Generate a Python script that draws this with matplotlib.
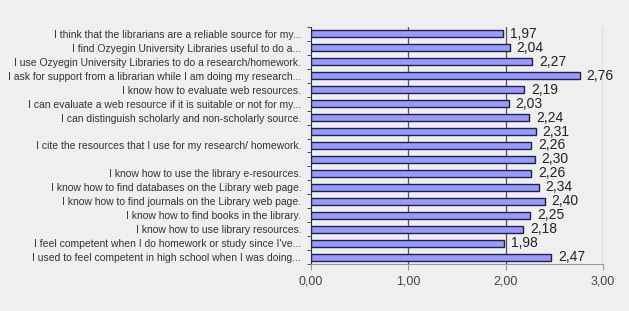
import numpy as np
import matplotlib
matplotlib.use("Agg")
import matplotlib.pyplot as plt

labels = [
    "I think that the librarians are a reliable source for my...",
    "I find Ozyegin University Libraries useful to do a...",
    "I use Ozyegin University Libraries to do a research/homework.",
    "I ask for support from a librarian while I am doing my research...",
    "I know how to evaluate web resources.",
    "I can evaluate a web resource if it is suitable or not for my...",
    "I can distinguish scholarly and non-scholarly source.",
    "",
    "I cite the resources that I use for my research/ homework.",
    "",
    "I know how to use the library e-resources.",
    "I know how to find databases on the Library web page.",
    "I know how to find journals on the Library web page.",
    "I know how to find books in the library.",
    "I know how to use library resources.",
    "I feel competent when I do homework or study since I've...",
    "I used to feel competent in high school when I was doing...",
]
values = [1.97, 2.04, 2.27, 2.76, 2.19, 2.03, 2.24, 2.31, 2.26, 2.30,
          2.26, 2.34, 2.40, 2.25, 2.18, 1.98, 2.47]
xticks = [0, 1, 2, 3]

plt.rcParams['font.family'] = ['Liberation Sans', 'DejaVu Sans']

fig = plt.figure(figsize=(6.29, 3.11), dpi=100, facecolor="#efefef")
ax = fig.add_axes([311 / 629, 1 - 264 / 311, 292 / 629, 237 / 311])
ax.set_facecolor("#efefef")

y = np.arange(len(values))
ax.barh(y, values, height=0.5, color="#9999ff", edgecolor="#222244", linewidth=1.0, zorder=3)
for yi, v in zip(y, values):
    ax.text(v + 0.07, yi, f"{v:.2f}".replace(".", ","), va="center", ha="left",
            fontsize=10, color="#222222", zorder=4)

ax.set_xlim(0, 3)
ax.set_ylim(len(values) - 0.5, -0.5)
ax.set_yticks(y)
ax.set_yticklabels(labels, fontsize=7.5, color="#333333")
ax.tick_params(axis="y", which="major", length=0, pad=7)
ax.set_yticks(np.arange(len(values) + 1) - 0.5, minor=True)
ax.tick_params(axis="y", which="minor", length=3, color="#333333")

ax.set_xticks(xticks)
ax.set_xticklabels([f"{t:.2f}".replace(".", ",") for t in xticks], fontsize=9, color="#444444")
ax.tick_params(axis="x", length=4, color="#999999", pad=4)

for t in [1, 2]:
    ax.axvline(t, color="#555555", linewidth=0.9, zorder=1)
ax.axvline(3, color="#999999", linewidth=1.0, zorder=1)

for s in ["top", "right"]:
    ax.spines[s].set_visible(False)
ax.spines["left"].set_color("#333333")
ax.spines["bottom"].set_color("#999999")

fig.savefig("out.png", dpi=100, facecolor=fig.get_facecolor())
